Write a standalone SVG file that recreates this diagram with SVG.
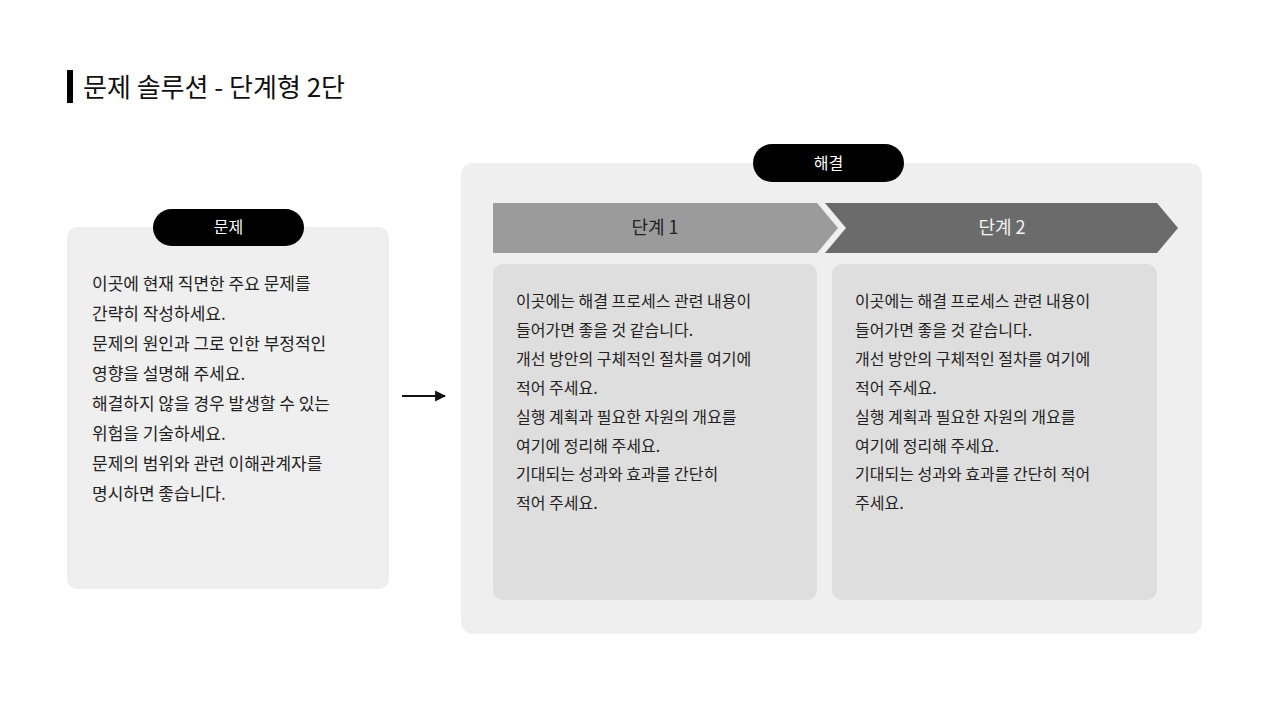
<svg xmlns="http://www.w3.org/2000/svg" width="1280" height="720" viewBox="0 0 1280 720">
<defs>
<style>
text{font-family:"Noto Sans CJK KR","Noto Sans",sans-serif;}
.title{font-size:26px;fill:#111;font-weight:400;}
.pill{fill:#000;}
.pilltxt{font-size:16px;fill:#fff;text-anchor:middle;}
.body{font-size:16px;fill:#222;}
.lbody{font-size:17px;fill:#222;}
.panel{fill:#efefef;}
.card{fill:#dedede;}
.step{font-size:18px;text-anchor:middle;}
</style>
<marker id="ah" viewBox="0 0 10 10" refX="9" refY="5" markerWidth="5.5" markerHeight="6" orient="auto" markerUnits="strokeWidth">
<path d="M0,0 L10,5 L0,10 z" fill="#111"/>
</marker>
</defs>
<rect width="1280" height="720" fill="#fff"/>
<g id="title">
<rect x="67" y="70" width="6" height="33" fill="#000"/>
<text class="title" x="83" y="97">문제 솔루션 - 단계형 2단</text>
</g>
<g id="problem">
<rect class="panel" x="67" y="227" width="322" height="362" rx="10"/>
<rect class="pill" x="153" y="209" width="151" height="37" rx="18.5"/>
<text class="pilltxt" x="228.5" y="233">문제</text>
<text class="lbody">
<tspan x="92" y="290">이곳에 현재 직면한 주요 문제를</tspan>
<tspan x="92" y="320">간략히 작성하세요.</tspan>
<tspan x="92" y="350">문제의 원인과 그로 인한 부정적인</tspan>
<tspan x="92" y="380">영향을 설명해 주세요.</tspan>
<tspan x="92" y="410">해결하지 않을 경우 발생할 수 있는</tspan>
<tspan x="92" y="440">위험을 기술하세요.</tspan>
<tspan x="92" y="470">문제의 범위와 관련 이해관계자를</tspan>
<tspan x="92" y="500">명시하면 좋습니다.</tspan>
</text>
</g>
<g id="connectors">
<line x1="402" y1="396" x2="445" y2="396" stroke="#111" stroke-width="2" marker-end="url(#ah)"/>
</g>
<g id="solution">
<rect class="panel" x="461" y="163" width="741" height="471" rx="12"/>
<rect class="pill" x="753" y="144" width="151" height="38" rx="19"/>
<text class="pilltxt" x="828.5" y="169">해결</text>
</g>
<g id="step1">
<polygon points="493,203 817,203 838,228 817,253 493,253" fill="#9b9b9b"/>
<text class="step" x="655" y="234" fill="#222">단계 1</text>
<rect class="card" x="493" y="264" width="324" height="336" rx="10"/>
<text class="body">
<tspan x="516" y="307">이곳에는 해결 프로세스 관련 내용이</tspan>
<tspan x="516" y="336">들어가면 좋을 것 같습니다.</tspan>
<tspan x="516" y="365">개선 방안의 구체적인 절차를 여기에</tspan>
<tspan x="516" y="394">적어 주세요.</tspan>
<tspan x="516" y="423">실행 계획과 필요한 자원의 개요를</tspan>
<tspan x="516" y="452">여기에 정리해 주세요.</tspan>
<tspan x="516" y="480">기대되는 성과와 효과를 간단히</tspan>
<tspan x="516" y="509">적어 주세요.</tspan>
</text>
</g>
<g id="step2">
<polygon points="825,203 1157,203 1178,228 1157,253 825,253 846,228" fill="#6b6b6b"/>
<text class="step" x="1002" y="234" fill="#f2f2f2">단계 2</text>
<rect class="card" x="832" y="264" width="325" height="336" rx="10"/>
<text class="body">
<tspan x="855" y="307">이곳에는 해결 프로세스 관련 내용이</tspan>
<tspan x="855" y="336">들어가면 좋을 것 같습니다.</tspan>
<tspan x="855" y="365">개선 방안의 구체적인 절차를 여기에</tspan>
<tspan x="855" y="394">적어 주세요.</tspan>
<tspan x="855" y="423">실행 계획과 필요한 자원의 개요를</tspan>
<tspan x="855" y="452">여기에 정리해 주세요.</tspan>
<tspan x="855" y="480">기대되는 성과와 효과를 간단히 적어</tspan>
<tspan x="855" y="509">주세요.</tspan>
</text>
</g>
</svg>
